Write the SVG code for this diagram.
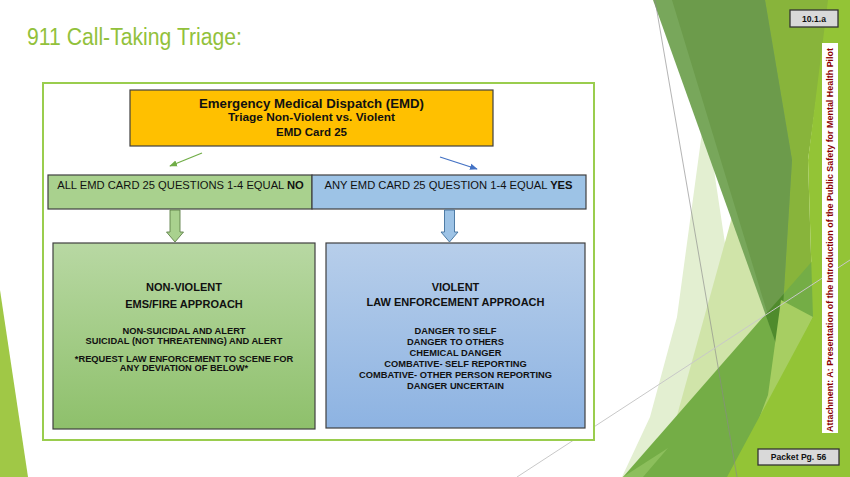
<svg xmlns="http://www.w3.org/2000/svg" width="850" height="477" viewBox="0 0 850 477">
<defs>
<style>
.t{font-family:"Liberation Sans",Arial,sans-serif;fill:#111111}
.b{font-weight:bold}
.box{stroke:#404040;stroke-width:1.2}
.tag{fill:#D9D9D9;stroke:#333333;stroke-width:1.3}
</style>
<linearGradient id="gGreen" x1="0" y1="0" x2="0" y2="1">
<stop offset="0" stop-color="#B8D8A3"/><stop offset="1" stop-color="#8EC06B"/>
</linearGradient>
<linearGradient id="gBlue" x1="0" y1="0" x2="0" y2="1">
<stop offset="0" stop-color="#B7CEEA"/><stop offset="1" stop-color="#8DB3E2"/>
</linearGradient>
<marker id="mGreen" viewBox="0 0 10 10" refX="9" refY="5" markerWidth="6" markerHeight="6" orient="auto">
<path d="M0,1 L10,5 L0,9 z" fill="#70AD47"/>
</marker>
<marker id="mBlue" viewBox="0 0 10 10" refX="9" refY="5" markerWidth="6" markerHeight="6" orient="auto">
<path d="M0,1 L10,5 L0,9 z" fill="#4472C4"/>
</marker>
</defs>
<rect x="0" y="0" width="850" height="477" fill="#FFFFFF"/>
<g id="background">
<polygon points="0,290 28,477 0,477" fill="#A0C846"/>
<polygon points="705,110 760,477 622,477 650,417 677,317" fill="#E3EFD1"/>
<polygon points="745,170 790,477 660,477" fill="#D0E4A9"/>
<polygon points="760,0 830,0 808,160 813,317 780,355" fill="#88B43B"/>
<polygon points="623,477 850,218 850,477" fill="#74AD46"/>
<polygon points="623,477 643,477 668,448" fill="#8CBF5C"/>
<polygon points="653,0 765,0 792,160 780,355" fill="#78A75B"/>
<polygon points="672,0 765,0 792,160 780,355 767,312" fill="#6C9B4B"/>
<polygon points="765.5,314.5 783.8,293.7 780,355" fill="#4F8B2C"/>
<polygon points="781,300 813,317 737,477 768,395" fill="#A7CE62"/>
<polygon points="828,0 850,0 850,477 727,477 813,317 808,160" fill="#93C436"/>
<line x1="655" y1="0" x2="737" y2="477" stroke="#8A8A8A" stroke-width="0.8" opacity="0.8"/>
<line x1="517" y1="477" x2="850" y2="260" stroke="#C8C8C8" stroke-width="1"/>
<rect x="822" y="43" width="16" height="390" fill="#FFFFFF"/>
<text class="b" x="830" y="240" transform="rotate(-90 830 240)" font-family="Liberation Sans, Arial, sans-serif" font-size="8.8" fill="#8B0000" text-anchor="middle" dominant-baseline="central" textLength="384" lengthAdjust="spacingAndGlyphs">Attachment: A: Presentation of the Introduction of the Public Safety for Mental Health Pilot</text>
<rect class="tag" x="790" y="10" width="48" height="17"/>
<text class="t b" x="814" y="21.5" font-size="8.6" text-anchor="middle">10.1.a</text>
<rect class="tag" x="758" y="449" width="81" height="16"/>
<text class="t b" x="798.5" y="460" font-size="8.6" text-anchor="middle">Packet Pg. 56</text>
</g>
<text x="27" y="45" font-family="Liberation Sans, Arial, sans-serif" font-size="23" fill="#92C13B" textLength="215" lengthAdjust="spacingAndGlyphs">911 Call-Taking Triage:</text>
<rect id="frame" x="43" y="83" width="551" height="357" fill="#FFFFFF" stroke="#9ACD4E" stroke-width="2"/>
<g id="emd">
<rect class="box" x="130" y="90" width="363" height="56" fill="#FFC000"/>
<text class="t b" x="311.5" y="107.5" font-size="12.5" text-anchor="middle" textLength="225" lengthAdjust="spacingAndGlyphs">Emergency Medical Dispatch (EMD)</text>
<text class="t b" x="311.5" y="121" font-size="11" text-anchor="middle" textLength="167" lengthAdjust="spacingAndGlyphs">Triage Non-Violent vs. Violent</text>
<text class="t b" x="311.5" y="136" font-size="11" text-anchor="middle" textLength="71" lengthAdjust="spacingAndGlyphs">EMD Card 25</text>
</g>
<g id="all-no">
<rect class="box" x="48" y="175" width="264" height="34" fill="#A9D18E"/>
<text class="t" x="180.5" y="188.5" font-size="11.2" text-anchor="middle">ALL EMD CARD 25 QUESTIONS 1-4 EQUAL <tspan font-weight="bold">NO</tspan></text>
</g>
<g id="any-yes">
<rect class="box" x="312" y="175" width="274" height="34" fill="#9DC3E6"/>
<text class="t" x="448.5" y="188.5" font-size="11.2" text-anchor="middle">ANY EMD CARD 25 QUESTION 1-4 EQUAL <tspan font-weight="bold">YES</tspan></text>
</g>
<g id="non-violent">
<rect class="box" x="53" y="243" width="262" height="186" fill="url(#gGreen)"/>
<text class="t b" x="184" y="291" font-size="11" text-anchor="middle">NON-VIOLENT</text>
<text class="t b" x="184" y="308" font-size="11" text-anchor="middle">EMS/FIRE APPROACH</text>
<text class="t b" x="184" y="333.5" font-size="9.3" text-anchor="middle">NON-SUICIDAL AND ALERT</text>
<text class="t b" x="184" y="343.5" font-size="9.3" text-anchor="middle">SUICIDAL (NOT THREATENING) AND ALERT</text>
<text class="t b" x="184" y="361.5" font-size="9.3" text-anchor="middle">*REQUEST LAW ENFORCEMENT TO SCENE FOR</text>
<text class="t b" x="184" y="370.5" font-size="9.3" text-anchor="middle">ANY DEVIATION OF BELOW*</text>
</g>
<g id="violent">
<rect class="box" x="326" y="243" width="259" height="185" fill="url(#gBlue)"/>
<text class="t b" x="455.5" y="291" font-size="11" text-anchor="middle">VIOLENT</text>
<text class="t b" x="455.5" y="306" font-size="11" text-anchor="middle">LAW ENFORCEMENT APPROACH</text>
<text class="t b" x="455.5" y="333.5" font-size="9.3" text-anchor="middle">DANGER TO SELF</text>
<text class="t b" x="455.5" y="344.5" font-size="9.3" text-anchor="middle">DANGER TO OTHERS</text>
<text class="t b" x="455.5" y="355.5" font-size="9.3" text-anchor="middle">CHEMICAL DANGER</text>
<text class="t b" x="455.5" y="366.5" font-size="9.3" text-anchor="middle">COMBATIVE- SELF REPORTING</text>
<text class="t b" x="455.5" y="377.5" font-size="9.3" text-anchor="middle">COMBATIVE- OTHER PERSON REPORTING</text>
<text class="t b" x="455.5" y="388.5" font-size="9.3" text-anchor="middle">DANGER UNCERTAIN</text>
</g>
<g id="connectors">
<line x1="202" y1="153" x2="170" y2="166" stroke="#70AD47" stroke-width="1.3" marker-end="url(#mGreen)"/>
<line x1="440" y1="157" x2="477" y2="169" stroke="#4472C4" stroke-width="1.3" marker-end="url(#mBlue)"/>
<polygon points="170,210 180,210 180,232 183.5,232 175,242 166.5,232 170,232" fill="#A9D18E" stroke="#5E7F48" stroke-width="0.9"/>
<polygon points="444.5,210 454.5,210 454.5,232 458,232 449.5,242 441,232 444.5,232" fill="#9DC3E6" stroke="#41719C" stroke-width="0.9"/>
</g>
</svg>
